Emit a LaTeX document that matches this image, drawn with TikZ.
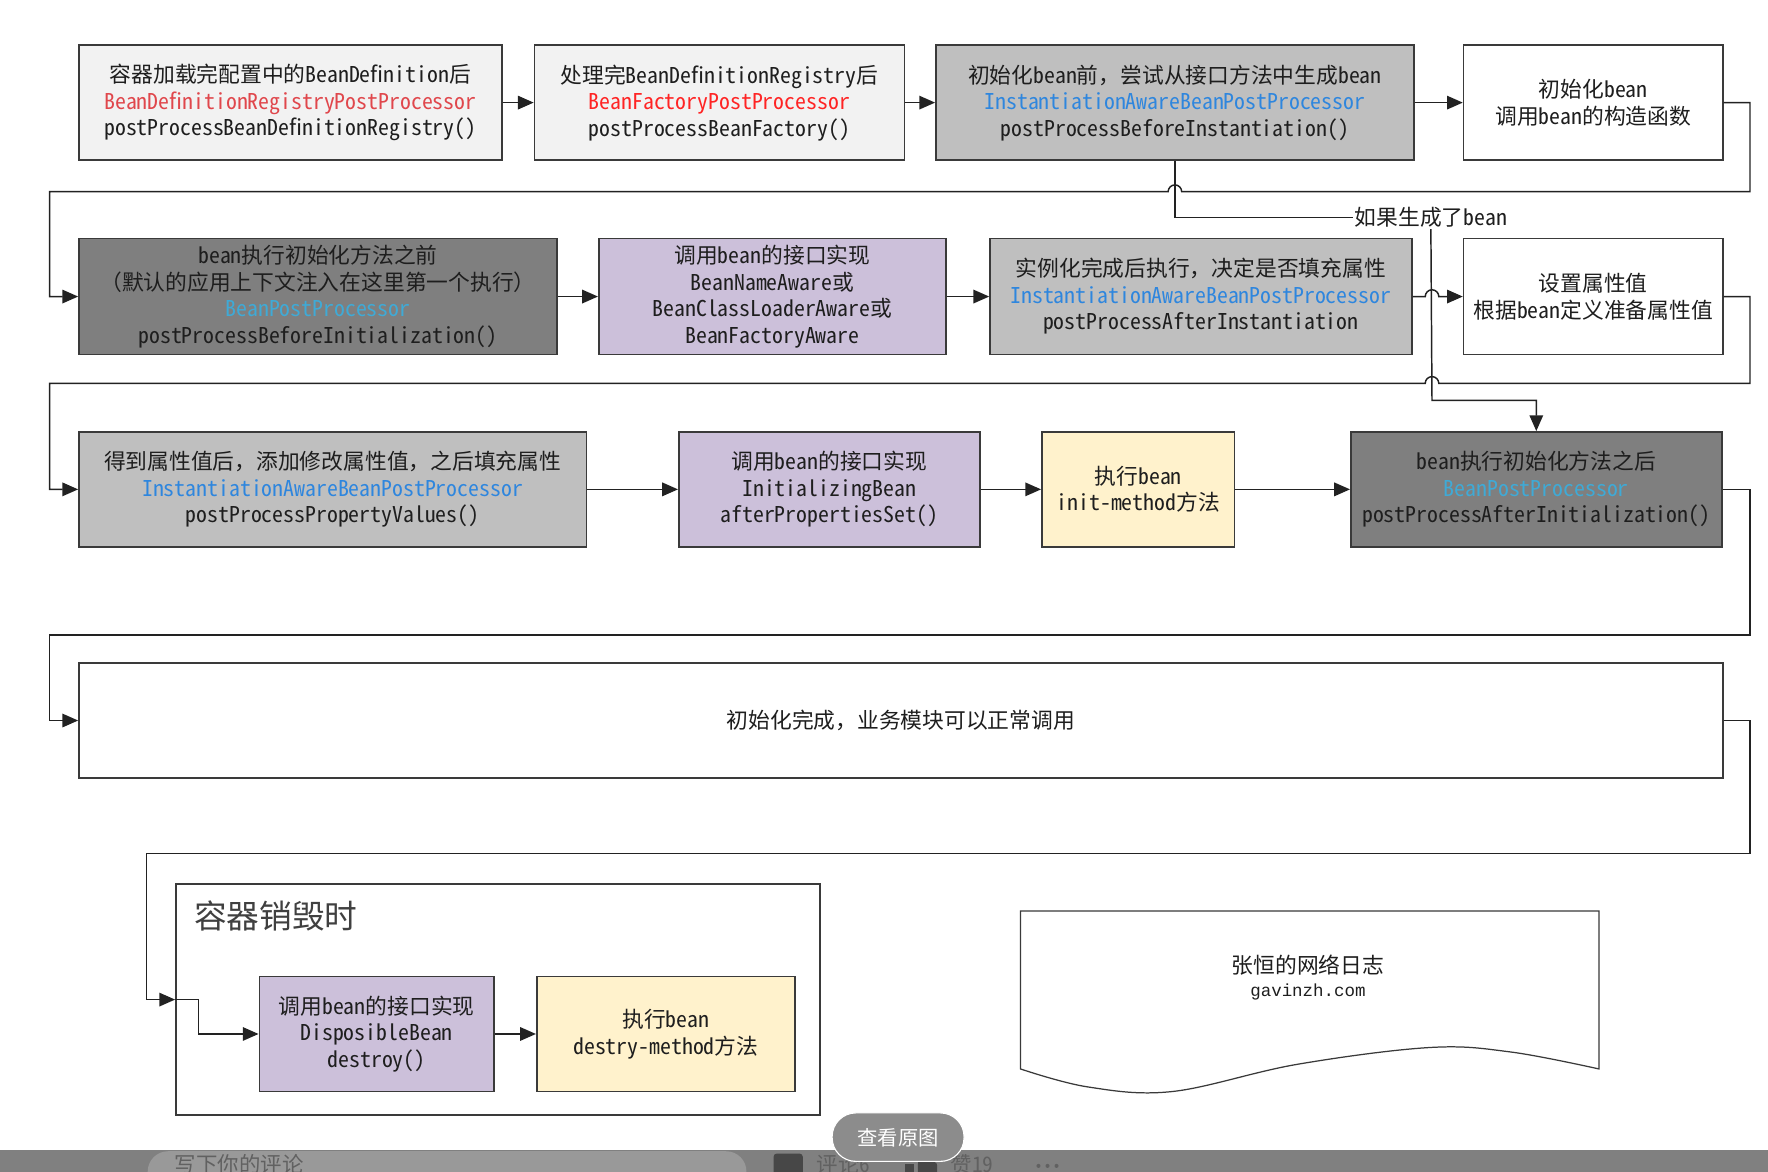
\documentclass[tikz,border=0pt]{standalone}
\usepackage{fontspec}
\setmainfont{Noto Sans CJK SC}[RawFeature=+hwid]
\newfontfamily\cjkfw{Noto Sans CJK SC}
\newfontfamily\urlfont{Liberation Mono}
\newcommand{\fwc}{{\cjkfw ，}}
\newcommand{\fwl}{{\cjkfw （}}
\newcommand{\fwr}{{\cjkfw ）}}
\usetikzlibrary{arrows.meta}
\definecolor{lightbox}{HTML}{F2F2F2}
\definecolor{midgray}{HTML}{BFBFBF}
\definecolor{darkbox}{HTML}{7F7F7F}
\definecolor{lavender}{HTML}{CCC0DA}
\definecolor{yellowbox}{HTML}{FFF2CC}
\definecolor{boxline}{HTML}{3A3A3A}
\definecolor{lineclr}{HTML}{222222}
\definecolor{txt}{HTML}{1E1E1E}
\definecolor{redA}{HTML}{E0474C}
\definecolor{redB}{HTML}{FF2424}
\definecolor{blueA}{HTML}{2E86DE}
\definecolor{blueL}{HTML}{3FAAD6}
\definecolor{uibar}{HTML}{808080}
\begin{document}
\begin{tikzpicture}[x=1pt,y=-1pt,
  box/.style={draw=boxline, line width=1.4pt, align=center, inner sep=0pt, text=txt,
    font=\fontsize{19.3}{23.5}\selectfont},
  wh/.style 2 args={minimum width=#1pt, minimum height=#2pt},
  conn/.style={draw=lineclr, line width=1.3pt},
  arr/.style={conn, -{Triangle[length=14pt,width=12pt]}},
  lbl/.style={inner sep=1pt, text=txt, font=\fontsize{19.3}{22}\selectfont}]
\useasboundingbox (0,0) rectangle (1568,1039);
\fill[white] (0,0) rectangle (1568,1039);

% Row 1
\node[box, fill=lightbox, wh={375}{102}] (b1) at (257.5,91)
  {容器加载完配置中的BeanDefinition后\\{\color{redA}BeanDefinitionRegistryPostProcessor}\\postProcessBeanDefinitionRegistry()};
\node[box, fill=lightbox, wh={328}{102}] (b2) at (638,91)
  {处理完BeanDefinitionRegistry后\\{\color{redB}BeanFactoryPostProcessor}\\postProcessBeanFactory()};
\node[box, fill=midgray, wh={424}{102}] (b3) at (1042,91)
  {初始化bean前\fwc 尝试从接口方法中生成bean\\{\color{blueA}InstantiationAwareBeanPostProcessor}\\postProcessBeforeInstantiation()};
\node[box, fill=white, wh={230}{102}] (b4) at (1413,91)
  {初始化bean\\调用bean的构造函数};

% Row 2
\node[box, fill=darkbox, wh={424}{103}] (b5) at (282,263)
  {bean执行初始化方法之前\\\fwl 默认的应用上下文注入在这里第一个执行\fwr\\{\color{blueL}BeanPostProcessor}\\postProcessBeforeInitialization()};
\node[box, fill=lavender, wh={308}{103}] (b6) at (685,263)
  {调用bean的接口实现\\BeanNameAware或\\BeanClassLoaderAware或\\BeanFactoryAware};
\node[box, fill=midgray, wh={374}{103}] (b7) at (1065,263)
  {实例化完成后执行\fwc 决定是否填充属性\\{\color{blueA}InstantiationAwareBeanPostProcessor}\\postProcessAfterInstantiation};
\node[box, fill=white, wh={230}{103}] (b8) at (1413,263)
  {设置属性值\\根据bean定义准备属性值};

% Row 3
\node[box, fill=midgray, wh={450}{102}] (b9) at (295,434)
  {得到属性值后\fwc 添加修改属性值\fwc 之后填充属性\\{\color{blueA}InstantiationAwareBeanPostProcessor}\\postProcessPropertyValues()};
\node[box, fill=lavender, wh={267}{102}] (b10) at (735.5,434)
  {调用bean的接口实现\\InitializingBean\\afterPropertiesSet()};
\node[box, fill=yellowbox, wh={171}{102}] (b11) at (1009.5,434)
  {执行bean\\init-method方法};
\node[box, fill=darkbox, wh={329}{102}] (b12) at (1362.5,434)
  {bean执行初始化方法之后\\{\color{blueL}BeanPostProcessor}\\postProcessAfterInitialization()};

% Row 4
\node[box, fill=white, wh={1458}{102}] (b13) at (799,639)
  {初始化完成\fwc 业务模块可以正常调用};

% Destroy container
\node[box, fill=white, wh={571}{205}] (cont) at (441.5,886.5) {};
\node[anchor=west, inner sep=0pt, text=txt!85, font=\fontsize{29}{30}\selectfont] (ctitle) at (172,812) {容器销毁时};
\node[box, fill=lavender, wh={208}{102}] (b14) at (334,917)
  {调用bean的接口实现\\DisposibleBean\\destroy()};
\node[box, fill=yellowbox, wh={229}{102}] (b15) at (590.5,917)
  {执行bean\\destry-method方法};

% Document shape
\draw[draw=boxline, line width=1.1pt, fill=white]
  (905,808) -- (1418,808) -- (1418,948)
  -- plot[smooth, tension=0.6] coordinates {(1418,948) (1340,933) (1268,929) (1150,944) (1040,968) (965,964) (905,948)}
  -- cycle;
\node[inner sep=0pt, text=txt, font=\fontsize{19.3}{20}\selectfont] (doct) at (1160,856) {张恒的网络日志};
\node[inner sep=0pt, text=txt, font=\urlfont\fontsize{15.5}{16}\selectfont] (docu) at (1160,880) {gavinzh.com};

% Label
\node[lbl] (lb) at (1269,193) {如果生成了bean};
\coordinate (k1) at (1270,355);

% Connectors
\draw[arr] (b1) -- (b2);
\draw[arr] (b2) -- (b3);
\draw[arr] (b3) -- (b4);
\draw[arr] (b4.east) -- (1552,91) -- (1552,170) -- (1048,170)
  arc[start angle=0, end angle=180, radius=6pt] -- (44,170) |- (b5.west);
\draw[conn] (b3.south) -- (1042,193) -- (lb.west);
\draw[arr] (lb.south) -- (k1) -| (b12.north);
\draw[arr] (b5) -- (b6);
\draw[arr] (b6) -- (b7);
\draw[arr] (b7.east) -- (1264,263) arc[start angle=180, end angle=0, radius=6pt] -- (b8.west);
\draw[arr] (b8.east) -- (1552,263) -- (1552,340) -- (1276,340)
  arc[start angle=0, end angle=180, radius=6pt] -- (44,340) |- (b9.west);
\draw[arr] (b9) -- (b10);
\draw[arr] (b10) -- (b11);
\draw[arr] (b11) -- (b12);
\draw[arr] (b12.east) -- (1552,434) -- (1552,563) -- (44,563) |- (b13.west);
\draw[arr] (b13.east) -- (1552,639) -- (1552,757) -- (130,757) |- (cont.west);
\draw[arr] (cont.west) -- (176,886.5) |- (b14.west);
\draw[arr] (b14) -- (b15);

% Page UI overlay
\fill[uibar] (0,1020) rectangle (1568,1039);
\begin{scope}
  \clip (0,1020) rectangle (1568,1039);
  \fill[black!40, rounded corners=18pt] (131,1021) rectangle (662,1070);
  \node[anchor=north west, inner sep=0pt, text=black!62, font=\fontsize{19}{19}\selectfont] (ui1) at (155,1024) {写下你的评论};
  \fill[black!72, rounded corners=3pt] (686,1023) rectangle (712,1052);
  \node[anchor=north west, inner sep=0pt, text=black!62, font=\fontsize{19}{19}\selectfont] (ui2) at (724,1024) {评论6};
  \fill[black!72] (803,1032) rectangle (811,1052);
  \fill[black!72, rounded corners=2pt] (814,1031) -- (820,1018) -- (826,1022) -- (824,1030) -- (831,1031) -- (831,1052) -- (814,1052) -- cycle;
  \node[anchor=north west, inner sep=0pt, text=black!62, font=\fontsize{19}{19}\selectfont] (ui3) at (843,1024) {赞19};
  \fill[black!62] (921,1034) circle (1.8pt) (929,1034) circle (1.8pt) (937,1034) circle (1.8pt);
\end{scope}
\draw[white, line width=1pt, fill=black!45, rounded corners=21pt] (738,987) rectangle (855,1030);
\node[inner sep=0pt, text=white, font=\fontsize{18}{18}\selectfont] (ui4) at (796.5,1009) {查看原图};
\end{tikzpicture}
\end{document}
